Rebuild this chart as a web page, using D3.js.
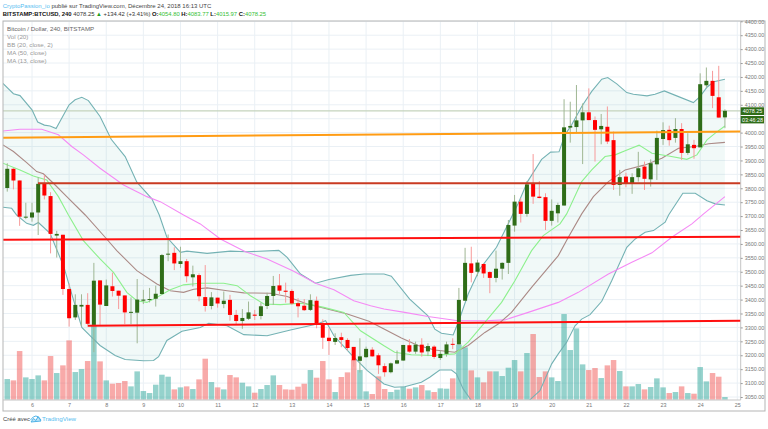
<!DOCTYPE html>
<html><head><meta charset="utf-8">
<style>html,body{margin:0;padding:0;background:#fff}svg{display:block}text{font-family:"Liberation Sans",Arial,sans-serif}</style>
<script src="https://cdn.jsdelivr.net/npm/d3@7/dist/d3.min.js"></script>
</head><body><svg id="c" width="768" height="429"></svg>
<script>
// bars are counted in 4h steps from Dec 6 00:00 (first bar = -4)
const firstBar = -4;
const open = [3801,3870,3828,3695,3695,3713,3816,3772,3630,3633,3438,3336,3375,3381,3309,3469,3377,3448,3432,3415,3353,3353,3396,3399,3403,3420,3562,3568,3528,3538,3480,3488,3409,3377,3407,3384,3399,3345,3323,3331,3346,3341,3377,3413,3451,3432,3431,3387,3378,3363,3396,3315,3263,3248,3265,3255,3230,3180,3193,3220,3200,3161,3139,3170,3181,3236,3213,3238,3214,3231,3190,3205,3241,3239,3396,3530,3500,3528,3499,3478,3511,3532,3666,3752,3708,3818,3770,3768,3683,3710,3738,4018,4020,4044,4073,4045,4012,4021,3973,3812,3842,3818,3840,3878,3832,3886,3977,4010,3981,4013,3927,3956,3947,4170,4186,4127,4054.8];
const high = [3890,3872,3828,3748,3748,3840,3848,3786,3647,3633,3458,3419,3419,3423,3532,3469,3472,3497,3432,3415,3408,3474,3435,3442,3450,3564,3634,3588,3590,3546,3522,3494,3524,3427,3407,3429,3417,3363,3366,3393,3363,3389,3425,3485,3492,3461,3437,3405,3402,3419,3411,3329,3297,3279,3281,3261,3230,3261,3231,3229,3207,3171,3174,3217,3237,3258,3249,3261,3243,3236,3217,3249,3261,3442,3586,3590,3543,3530,3502,3576,3534,3686,3776,3764,3826,3923,3826,3782,3760,3748,4120,4111,4171,4105,4159,4058,4067,4094,4004,3866,3856,3854,3931,3896,3904,4007,4037,4025,4052,4034,3998,3974,4213,4234,4222,4240,4083.77];
const low = [3788,3796,3665,3689,3680,3632,3760,3566,3551,3417,3303,3327,3303,3309,3211,3309,3377,3411,3366,3312,3312,3243,3384,3390,3375,3418,3538,3506,3514,3462,3447,3394,3357,3365,3371,3369,3324,3309,3295,3327,3327,3329,3366,3381,3420,3389,3381,3336,3359,3359,3297,3223,3201,3237,3229,3217,3159,3138,3191,3195,3133,3123,3135,3168,3180,3209,3205,3195,3197,3187,3183,3195,3222,3239,3396,3462,3484,3478,3423,3462,3472,3492,3644,3677,3698,3744,3764,3650,3666,3677,3738,3964,3998,3887,4045,3896,3958,3959,3794,3773,3804,3780,3824,3794,3806,3830,3956,3953,3964,3902,3920,3906,3947,4160,4088,4054,4015.97];
const close = [3870,3828,3698,3698,3713,3816,3774,3636,3636,3438,3333,3381,3381,3313,3468,3382,3451,3431,3414,3354,3356,3400,3400,3402,3421,3560,3565,3530,3538,3484,3491,3412,3377,3408,3386,3396,3345,3323,3334,3354,3342,3376,3413,3449,3432,3428,3386,3376,3362,3398,3315,3263,3251,3262,3255,3226,3182,3196,3223,3196,3164,3139,3171,3182,3237,3213,3238,3210,3233,3194,3205,3239,3239,3399,3532,3496,3533,3494,3478,3511,3532,3668,3752,3708,3814,3770,3765,3683,3719,3740,4019,4024,4044,4073,4045,4010,4024,3968,3812,3840,3818,3840,3872,3834,3890,3981,4009,3973,4013,3927,3958,3944,4174,4186,4132,4054,4078.25];
const volume = [62,58,146,67,62,73,58,131,80,103,178,83,92,116,222,115,58,48,50,56,40,85,26,20,45,75,69,31,37,40,32,61,123,53,37,31,74,67,51,40,21,32,44,73,44,31,30,39,48,89,66,116,61,23,68,82,120,89,25,17,70,32,23,30,39,33,37,44,28,23,34,33,64,165,157,88,67,52,85,85,71,96,119,85,140,197,68,85,67,56,257,149,214,106,89,95,65,103,119,86,40,40,47,31,38,64,37,20,23,40,20,18,98,55,80,69,8];

const bbUpper = [[-4.7,4177],[-3,4140],[-1.94,4133],[0,4082],[.92,4038],[2,4027],[2.92,4024],[3.89,4015],[6,4100],[6.97,4118],[8.05,4127],[9.12,4115],[11,4058],[12.8,3976],[15.06,3914],[16.95,3822],[19.38,3762],[20.57,3704],[21.8,3624],[24,3570],[25.05,3574],[28.3,3566],[32.07,3574],[34.77,3572],[39.89,3577],[41.24,3552],[43.4,3492],[45.83,3459],[48,3472],[51.5,3487],[53.66,3492],[56.9,3492],[58.08,3484],[61.05,3402],[64,3342],[65.1,3294],[66.18,3279],[68.07,3273],[69,3324],[70.5,3420],[72.38,3510],[75.08,3588],[76.43,3648],[78.6,3746],[80.1,3824],[82.37,3904],[83.83,3930],[85.18,3931],[86.15,3992],[87.23,4028],[88.85,4094],[90.47,4148],[92.09,4192],[93.06,4198],[94.52,4175],[96.14,4144],[97.2,4138],[99.4,4132],[100.7,4138],[102.2,4150],[104.2,4132],[106.9,4108],[108,4130],[109.1,4163],[110.2,4183],[112,4192]];
const bbLower = [[-4.7,3732],[-3.29,3728],[-2.48,3704],[-.86,3674],[.22,3667],[1.03,3677],[2.92,3638],[5.18,3516],[6.43,3420],[8.05,3300],[9.66,3264],[11,3235],[13.44,3199],[15.06,3185],[18.03,3180],[19.65,3181],[20.46,3195],[21.8,3253],[24.24,3286],[27.2,3300],[28.56,3315],[31.53,3306],[34.23,3274],[38,3270],[41.78,3291],[46.1,3312],[47.45,3324],[48.8,3270],[51.5,3205],[54.2,3145],[56.9,3097],[58.6,3085],[60.24,3087],[62.94,3103],[64.29,3121],[65.9,3147],[67.8,3147],[68.6,3133],[69.69,3079],[70.93,3040],[73.2,2940],[77.5,2940],[80.48,3040],[82.1,3073],[84,3169],[85.07,3205],[86.42,3247],[87.77,3306],[88.85,3330],[90.2,3346],[92.09,3394],[93.7,3468],[96.14,3588],[97.5,3618],[99.1,3642],[100.45,3648],[102.34,3678],[102.9,3704],[105.2,3782],[107.2,3782],[109.1,3755],[110.44,3744],[112,3740]];
const ma50 = [[-4.7,4006],[-1.94,4012],[1.57,4012],[4.27,3992],[6.43,3950],[8.3,3920],[11,3872],[14.8,3812],[18.57,3770],[20.73,3752],[24.5,3704],[27.2,3672],[30.45,3618],[34.5,3572],[38,3546],[42.3,3502],[45.83,3459],[48.8,3435],[52,3396],[54.74,3378],[56.9,3366],[60.24,3354],[64,3339],[68.88,3324],[73.2,3324],[76.43,3327],[80.2,3354],[85.07,3390],[88.3,3426],[93.17,3492],[96.95,3534],[100.2,3568],[103.4,3624],[106.66,3672],[108.55,3708],[112,3770]];
const ma20 = [[-4.7,3956],[-3,3932],[-.86,3892],[.76,3860],[1.84,3852],[3.46,3818],[5.62,3770],[8.6,3704],[11.82,3624],[13.7,3576],[16.95,3504],[20.19,3456],[22.35,3432],[24.5,3426],[26.13,3437],[28.3,3442],[31.53,3432],[34.23,3424],[38.54,3423],[41.24,3411],[44.48,3384],[47.72,3366],[50.96,3348],[54.47,3322],[56.9,3294],[59.7,3262],[62.4,3235],[65.1,3219],[68.34,3211],[70.5,3235],[73.2,3282],[75.35,3312],[77.5,3354],[80.75,3444],[85.07,3558],[86.69,3624],[88.85,3708],[90.74,3770],[93.17,3824],[95.87,3866],[99.1,3884],[101.8,3908],[104.5,3944],[107.2,3950],[109.36,3960],[112,3965]];
const ma13 = [[-4.7,3890],[-1.94,3866],[.22,3844],[2.38,3830],[4.27,3770],[5.89,3704],[8.3,3612],[11,3546],[13.17,3498],[15.33,3426],[16.95,3396],[18.57,3390],[20.19,3408],[22.35,3435],[24.5,3453],[27.2,3459],[30.99,3459],[33.15,3450],[35.3,3414],[37.46,3384],[40.16,3382],[43.4,3387],[45,3382],[47.18,3372],[50.4,3354],[53.1,3288],[56.9,3234],[58.62,3211],[61.32,3202],[64.56,3199],[68.34,3205],[70.5,3247],[73.2,3318],[75.9,3390],[78.05,3468],[80.75,3576],[82.64,3630],[85.34,3672],[86.42,3708],[88.85,3824],[90.47,3866],[92.63,3914],[94.25,3920],[95.87,3935],[98.13,3955],[100.2,3926],[102.9,3916],[105.85,3904],[107.47,3920],[109.1,3974],[110.44,3998],[112,4024]];

const lastLine = [[-4.7,4078.25],[114.7,4078.25]];
const trendOrange = [[-4.7,3982],[114.7,4004]];
const trendDark = [[.97,3818],[114.7,3818]];
const trendMid = [[-4.7,3615],[114.7,3626]];
const trendLow = [[9,3306],[114.7,3324]];

const priceTicks = d3.range(3050,4401,50);
const hiddenPriceLabel = 4050;
const dayTicks = d3.range(0,115,6);
const dayLabels = [6,7,8,9,10,11,12,13,14,15,16,17,18,19,20,21,22,23,24,25];
const legendLines = ["Vol (20)","BB (20, close, 2)","MA (50, close)","MA (13, close)"];

const L=3,R=740.7,T=21,B=400,OUTR=765,OUTB=411;
const svg=d3.select("#c");
const x=d3.scaleLinear().domain([0,114]).range([32,737.3]);
const y=d3.scaleLinear().domain([3050,4400]).range([397,21.3]);
const v=d3.scaleLinear().domain([0,300]).range([399.7,299.7]);
const ln=d3.line().x(d=>x(d[0])).y(d=>y(d[1]));

svg.append("defs").append("clipPath").attr("id","pane").append("rect").attr("x",L).attr("y",T).attr("width",R-L).attr("height",B-T);

// grid
const grid=svg.append("g").attr("stroke","#eaf0f5").attr("stroke-width",1);
grid.selectAll("line.h").data(priceTicks).join("line").attr("x1",L).attr("x2",R).attr("y1",d=>y(d)).attr("y2",d=>y(d));
grid.selectAll("line.v").data(dayTicks).join("line").attr("y1",T).attr("y2",B).attr("x1",d=>x(d)).attr("x2",d=>x(d));

const pane=svg.append("g").attr("clip-path","url(#pane)");
// band
pane.append("path").attr("d",ln(bbUpper.concat(bbLower.slice().reverse()))+"Z").attr("fill","#26a69a").attr("fill-opacity",.065);
// volume
const idx=d3.range(open.length);
pane.append("g").selectAll("rect").data(idx).join("rect")
  .attr("x",i=>x(i+firstBar)-2.75).attr("width",5.5)
  .attr("y",i=>v(volume[i])).attr("height",i=>v(0)-v(volume[i]))
  .attr("fill",i=>close[i]>=open[i]?"#22a195":"#f14e4c").attr("fill-opacity",.48);
// lines
[[lastLine,"#c5d3bd",1.4],[bbUpper,"#74b2b4",1.1],[bbLower,"#74b2b4",1.1],[ma50,"#f58af5",1.1],[ma20,"#ab8a86",1.1],[ma13,"#8df08d",1.1]].forEach(a=>{
  pane.append("path").attr("d",ln(a[0])).attr("fill","none").attr("stroke",a[1]).attr("stroke-width",a[2]);
});
// candles
const up="#2f6d18",dn="#ff0000";
const cg=pane.append("g");
cg.selectAll("line").data(idx).join("line")
  .attr("x1",i=>x(i+firstBar)).attr("x2",i=>x(i+firstBar))
  .attr("y1",i=>y(high[i])).attr("y2",i=>y(low[i]))
  .attr("stroke",i=>close[i]>=open[i]?"#9fb693":"#f79a9a").attr("stroke-width",1);
cg.selectAll("rect").data(idx).join("rect")
  .attr("x",i=>x(i+firstBar)-2).attr("width",4)
  .attr("y",i=>y(Math.max(open[i],close[i])))
  .attr("height",i=>Math.max(1,Math.abs(y(open[i])-y(close[i]))))
  .attr("fill",i=>close[i]>=open[i]?up:dn);
// trend lines
[[trendOrange,"#ff9c14",2],[trendDark,"#c93a22",2],[trendMid,"#ff0f0f",2],[trendLow,"#ff0f0f",2]].forEach(a=>{
  pane.append("path").attr("d",ln(a[0])).attr("fill","none").attr("stroke",a[1]).attr("stroke-width",a[2]);
});

// frame
svg.append("rect").attr("x",L).attr("y",T).attr("width",OUTR-L).attr("height",OUTB-T).attr("fill","none").attr("stroke","#b5b5b5").attr("stroke-width",1);
svg.append("line").attr("x1",R).attr("x2",R).attr("y1",T).attr("y2",B).attr("stroke","#c4c4c4");
svg.append("line").attr("x1",L).attr("x2",R).attr("y1",B).attr("y2",B).attr("stroke","#c4c4c4");

// axes
const ya=svg.append("g").attr("transform",`translate(${R},0)`).call(d3.axisRight(y).tickValues(priceTicks.filter(p=>p!==hiddenPriceLabel)).tickFormat(d3.format(".2f")).tickSize(2).tickPadding(2));
const xa=svg.append("g").attr("transform",`translate(0,${B})`).call(d3.axisBottom(x).tickValues(dayTicks).tickFormat((d,i)=>dayLabels[i]).tickSize(0).tickPadding(3));
[ya,xa].forEach(a=>{a.select(".domain").remove();a.selectAll("line").attr("stroke","#999");a.selectAll("text").attr("fill","#777").attr("font-size",5.4).attr("font-family","Liberation Sans");});

// badges
const badge=(y0,h,t)=>{svg.append("rect").attr("x",R).attr("y",y0).attr("width",OUTR-R-1).attr("height",h).attr("fill","#2f6d18");
 svg.append("text").attr("x",752.5).attr("y",y0+h/2+1.9).attr("text-anchor","middle").attr("fill","#fff").attr("font-size",5.4).text(t);};
badge(107.3,7.7,"4078.25");
badge(116,7.4,"03:46:28");

// header
const h1=svg.append("text").attr("x",2.7).attr("y",8.2).attr("font-size",6).attr("fill","#444");
h1.append("tspan").attr("fill","#56bdf0").text("CryptoPassion_io");
h1.append("tspan").text(" publié sur TradingView.com, Décembre 24, 2018 16:13 UTC");
const h2=svg.append("text").attr("x",2.7).attr("y",16).attr("font-size",5.87).attr("fill","#333");
h2.append("tspan").attr("font-weight","bold").attr("fill","#111").text("BITSTAMP:BTCUSD, 240");
h2.append("tspan").text(" 4078.25 ");
h2.append("tspan").attr("fill","#1e9e1e").text("▲");
h2.append("tspan").text(" +134.42 (+3.41%) ");
[["O:","4054.80"],["H:","4083.77"],["L:","4015.97"],["C:","4078.25"]].forEach(p=>{
  h2.append("tspan").attr("font-weight","bold").attr("fill","#111").text(p[0]);
  h2.append("tspan").attr("fill","#33c033").text(p[1]+" ");
});
// legend
svg.append("text").attr("x",7).attr("y",30.5).attr("font-size",6.2).attr("fill","#666").text("Bitcoin / Dollar, 240, BITSTAMP");
svg.append("g").selectAll("text").data(legendLines).join("text").attr("x",7).attr("y",(d,i)=>38.7+i*8).attr("font-size",6.2).attr("fill","#999").text(d=>d);
// footer
svg.append("text").attr("x",3).attr("y",421.2).attr("font-size",5.9).attr("fill","#444").text("Créé avec");
const logo=svg.append("g").attr("fill","none").attr("stroke","#4fb3e8").attr("stroke-width",1);
logo.append("path").attr("d","M31 422 L33.5 418.5 L36 420.5 L38 416.5 L41 421 Z").attr("fill","#bfe4f7");
logo.append("path").attr("d","M30.5 420 Q36 412 41 420");
svg.append("text").attr("x",42).attr("y",421.2).attr("font-size",6.2).attr("fill","#56bdf0").text("TradingView");
</script></body></html>
